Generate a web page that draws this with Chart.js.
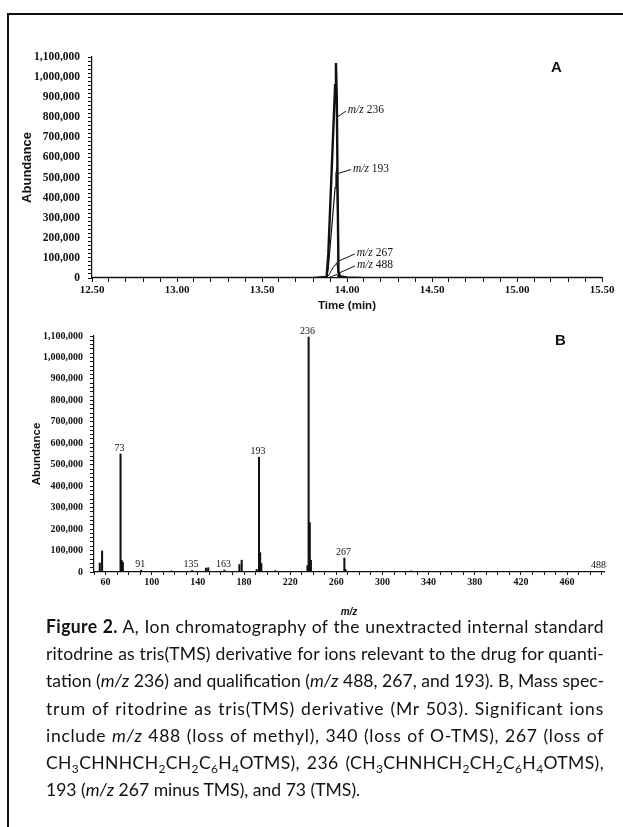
<!DOCTYPE html>
<html>
<head>
<meta charset="utf-8">
<script src="https://cdn.jsdelivr.net/npm/chart.js@4.4.1/dist/chart.umd.min.js"></script>
<style>
  html, body { margin: 0; padding: 0; background: #fff; }
  body { width: 623px; height: 827px; position: relative; overflow: hidden; }
  #frame { position: absolute; left: 7px; top: 13px; width: 630px; height: 830px;
           border-top: 2px solid #111; border-left: 2px solid #111; }
  canvas { position: absolute; left: 0; }
  #chartA { top: 0; }
  #chartB { top: 316px; }
  .panel { position: absolute; font: bold 15px "Liberation Sans", Arial, sans-serif; line-height: 15px; color: #111; }
  #caption { position: absolute; left: 46px; top: 613px; width: 558px; font-family: Lato, sans-serif;
             font-size: 18px; line-height: 27.2px; color: #111; transform-origin: 0 0; }
  #caption div { text-align: justify; text-align-last: justify; }
  #caption div.last { text-align-last: left; }
  sub { font-size: 0.68em; vertical-align: -0.3em; line-height: 0; }
</style>
</head>
<body>
<div id="frame"></div>
<canvas id="chartA" width="623" height="316"></canvas>
<canvas id="chartB" width="623" height="304"></canvas>
<div class="panel" style="left:551px; top:59px;">A</div>
<div class="panel" style="left:555px; top:332px;">B</div>
<div id="caption">
  <div><b>Figure 2.</b> A, Ion chromatography of the unextracted internal standard</div>
  <div>ritodrine as tris(TMS) derivative for ions relevant to the drug for quanti-</div>
  <div>tation (<i>m/z</i> 236) and qualification (<i>m/z</i> 488, 267, and 193). B, Mass spec-</div>
  <div>trum of ritodrine as tris(TMS) derivative (Mr 503). Significant ions</div>
  <div>include <i>m/z</i> 488 (loss of methyl), 340 (loss of O-TMS), 267 (loss of</div>
  <div>CH<sub>3</sub>CHNHCH<sub>2</sub>CH<sub>2</sub>C<sub>6</sub>H<sub>4</sub>OTMS), 236 (CH<sub>3</sub>CHNHCH<sub>2</sub>CH<sub>2</sub>C<sub>6</sub>H<sub>4</sub>OTMS),</div>
  <div class="last">193 (<i>m/z</i> 267 minus TMS), and 73 (TMS).</div>
</div>
<script>
// A: ion chromatogram (time in min, abundance)
const timeA  = [12.50, 13.80, 13.88, 13.89, 13.90, 13.91, 13.92, 13.93, 13.935, 13.94, 13.945, 13.95, 13.96, 14.00, 14.10, 15.50];
const ion236 = [0, 0, 5000, 120000, 330000, 540000, 750000, 960000, 1070000, 900000, 420000, 30000, 8000, 3000, 0, 0];
const ion193 = [0, 0, 0, 50000, 150000, 250000, 350000, 450000, 520000, 540000, 300000, 20000, 4000, 1000, 0, 0];
const ion267 = [0, 0, 2000, 10000, 25000, 40000, 55000, 65000, 72000, 75000, 45000, 5000, 1000, 0, 0, 0];
const ion488 = [0, 0, 0, 2000, 5000, 8000, 11000, 14000, 16000, 17000, 10000, 2000, 0, 0, 0, 0];

const noteIons  = ['236', '193', '267', '488'];
const noteTime  = [13.94, 13.947, 13.94, 13.953];
const noteValue = [800000, 520000, 80000, 25000];

const xTicksA = [12.50, 13.00, 13.50, 14.00, 14.50, 15.00, 15.50];
const yTicks  = [0, 100000, 200000, 300000, 400000, 500000, 600000, 700000, 800000, 900000, 1000000, 1100000];

// B: mass spectrum (m/z, abundance)
const mzB    = [55, 57, 73, 74, 75, 91, 117, 135, 147, 149, 163, 176, 178, 191, 193, 194, 195, 207, 235, 236, 237, 238, 267, 268, 325, 488];
const abundB = [42000, 98000, 550000, 55000, 45000, 8000, 5000, 7000, 18000, 20000, 9000, 35000, 55000, 12000, 535000, 90000, 40000, 6000, 30000, 1095000, 230000, 55000, 65000, 12000, 5000, 3000];
const labeledIons = [73, 91, 135, 163, 193, 236, 267, 488];
const xTicksB = [60, 100, 140, 180, 220, 260, 300, 340, 380, 420, 460];

function pts(xs, ys) {
  return xs.map(function (x, i) { return { x: x, y: ys[i] }; });
}

function tickList(majors, step, min, max) {
  var out = majors.slice();
  for (var v = min; v <= max + 1e-9; v += step) {
    var r = Math.round(v * 1000) / 1000;
    if (out.indexOf(r) < 0) out.push(r);
  }
  return out.sort(function (a, b) { return a - b; }).map(function (v) { return { value: v }; });
}

function isMajor(majors, v) {
  return majors.some(function (m) { return Math.abs(m - v) < 1e-6; });
}

const serif = '"Liberation Serif", "Times New Roman", serif';
const sans = '"Liberation Sans", Arial, sans-serif';

const peakNotes = {
  id: 'peakNotes',
  afterDatasetsDraw(chart, args, opts) {
    const ctx = chart.ctx, x = chart.scales.x, y = chart.scales.y;
    ctx.save();
    ctx.fillStyle = '#111';
    ctx.strokeStyle = '#111';
    ctx.lineWidth = 1;
    ctx.textBaseline = 'middle';
    noteIons.forEach(function (ion, i) {
      const px = x.getPixelForValue(noteTime[i]), py = y.getPixelForValue(noteValue[i]);
      const tx = px + opts.dx[i], ty = py + opts.dy[i];
      ctx.beginPath();
      ctx.moveTo(px, py);
      ctx.lineTo(tx - 2, ty + 1);
      ctx.stroke();
      ctx.font = 'italic 11.5px ' + serif;
      ctx.fillText('m/z', tx, ty);
      const w = ctx.measureText('m/z ').width;
      ctx.font = '11.5px ' + serif;
      ctx.fillText(ion, tx + w, ty);
    });
    ctx.restore();
  }
};

const peakLabels = {
  id: 'peakLabels',
  afterDatasetsDraw(chart) {
    const ctx = chart.ctx, x = chart.scales.x, y = chart.scales.y;
    ctx.save();
    ctx.fillStyle = '#111';
    ctx.font = '10px ' + serif;
    ctx.textAlign = 'center';
    ctx.textBaseline = 'bottom';
    labeledIons.forEach(function (m) {
      const v = abundB[mzB.indexOf(m)];
      ctx.fillText(String(m), x.getPixelForValue(m) - 1, Math.min(y.getPixelForValue(v) - 1, y.bottom - 2));
    });
    ctx.restore();
  }
};

Chart.defaults.color = '#111';
Chart.defaults.animation = false;

new Chart(document.getElementById('chartA'), {
  type: 'line',
  data: {
    datasets: [
      { data: pts(timeA, ion236), borderColor: '#111', borderWidth: 2.4 },
      { data: pts(timeA, ion236), borderColor: '#fff', borderWidth: 0.9 },
      { data: pts(timeA, ion193), borderColor: '#111', borderWidth: 1.2 },
      { data: pts(timeA, ion267), borderColor: '#111', borderWidth: 1 },
      { data: pts(timeA, ion488), borderColor: '#111', borderWidth: 1 }
    ]
  },
  options: {
    responsive: false,
    devicePixelRatio: 1,
    layout: { padding: { top: 57, right: 21, left: 0, bottom: 0 } },
    elements: { point: { radius: 0 }, line: { tension: 0 } },
    plugins: {
      legend: { display: false },
      tooltip: { enabled: false },
      peakNotes: { dx: [11, 15, 20, 18], dy: [-7, -5, -9, -8] }
    },
    scales: {
      x: {
        type: 'linear', min: 12.5, max: 15.5,
        afterBuildTicks: function (s) { s.ticks = tickList(xTicksA, 0.1, 12.5, 15.5); },
        afterFit: function (s) { s.height = 38; },
        grid: { drawOnChartArea: false, tickLength: 4, color: '#111' },
        border: { color: '#111', width: 1.2 },
        ticks: {
          autoSkip: false, maxRotation: 0, padding: 2,
          font: { family: serif, size: 11, weight: 'bold' },
          callback: function (v) { return isMajor(xTicksA, v) ? v.toFixed(2) : ''; }
        },
        title: { display: true, text: 'Time (min)', font: { family: sans, size: 11.5, weight: 'bold' }, padding: { top: 0, bottom: 3 } }
      },
      y: {
        min: 0, max: 1100000,
        afterBuildTicks: function (s) { s.ticks = tickList(yTicks, 20000, 0, 1100000); },
        afterFit: function (s) { s.width = 92; },
        grid: { drawOnChartArea: false, tickLength: 4, color: '#111' },
        border: { color: '#111', width: 1.2 },
        ticks: {
          autoSkip: false, padding: 8,
          font: { family: serif, size: 11.5, weight: 'bold' },
          callback: function (v) { return isMajor(yTicks, v) ? v.toLocaleString('en-US') : ''; }
        },
        title: { display: true, text: 'Abundance', font: { family: sans, size: 13, weight: 'bold' }, padding: { top: 20, bottom: 0 } }
      }
    }
  },
  plugins: [peakNotes]
});

new Chart(document.getElementById('chartB'), {
  type: 'bar',
  data: {
    datasets: [
      { data: pts(mzB, abundB), backgroundColor: '#111', borderWidth: 0, barThickness: 1.4 }
    ]
  },
  options: {
    responsive: false,
    devicePixelRatio: 1,
    layout: { padding: { top: 20, right: 19, left: 0, bottom: 0 } },
    plugins: { legend: { display: false }, tooltip: { enabled: false } },
    scales: {
      x: {
        type: 'linear', min: 50, max: 492, offset: false,
        afterBuildTicks: function (s) { s.ticks = tickList(xTicksB, 10, 50, 490); },
        afterFit: function (s) { s.height = 48; },
        grid: { drawOnChartArea: false, tickLength: 3, color: '#111', offset: false },
        border: { color: '#111', width: 1.2 },
        ticks: {
          autoSkip: false, maxRotation: 0, padding: 1,
          font: { family: serif, size: 10, weight: 'bold' },
          callback: function (v) { return isMajor(xTicksB, v) ? String(v) : ''; }
        },
        title: { display: true, text: 'm/z', font: { family: sans, size: 10, weight: 'bold', style: 'italic' }, padding: { top: 0, bottom: 2 } }
      },
      y: {
        min: 0, max: 1100000,
        afterBuildTicks: function (s) { s.ticks = tickList(yTicks, 20000, 0, 1100000); },
        afterFit: function (s) { s.width = 94; },
        grid: { drawOnChartArea: false, tickLength: 4, color: '#111' },
        border: { color: '#111', width: 1.2 },
        ticks: {
          autoSkip: false, padding: 7,
          font: { family: serif, size: 10, weight: 'bold' },
          callback: function (v) { return isMajor(yTicks, v) ? v.toLocaleString('en-US') : ''; }
        },
        title: { display: true, text: 'Abundance', font: { family: sans, size: 11.5, weight: 'bold' }, padding: { top: 30, bottom: 0 } }
      }
    }
  },
  plugins: [peakLabels]
});

// squeeze the caption so the widest line fits, then spread short lines with letter-spacing
(function () {
  const cap = document.getElementById('caption');
  const lines = Array.prototype.slice.call(cap.children);
  const target = 558;
  const widths = lines.map(function (d) {
    d.style.display = 'inline-block';
    d.style.whiteSpace = 'nowrap';
    const w = d.getBoundingClientRect().width;
    d.style.display = '';
    d.style.whiteSpace = '';
    return w;
  });
  const s = Math.min(1, target / (Math.max.apply(null, widths) + 1));
  const full = target / s;
  cap.style.width = full + 'px';
  cap.style.transform = 'scaleX(' + s + ')';
  lines.forEach(function (d, i) {
    if (d.classList.contains('last')) return;
    const gap = full - widths[i] - 2;
    const n = d.textContent.trim().length;
    if (gap > 0 && n > 0) d.style.letterSpacing = (0.9 * gap / n) + 'px';
  });
})();
</script>
</body>
</html>
